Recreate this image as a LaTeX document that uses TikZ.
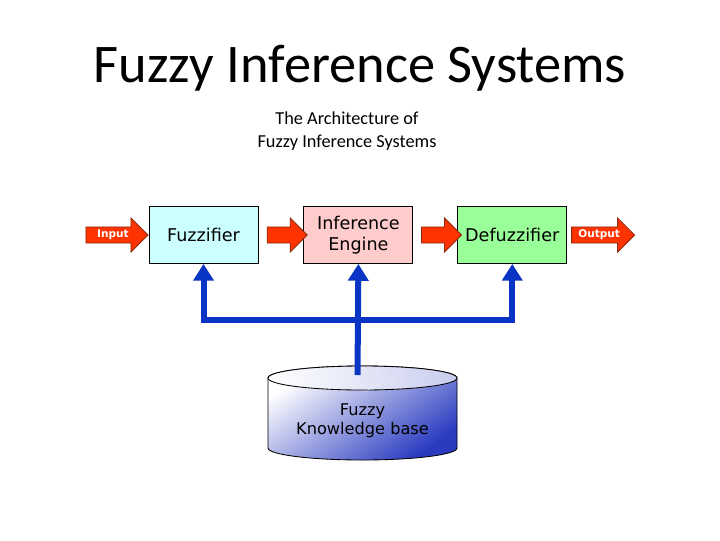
\documentclass[tikz,border=0pt]{standalone}
\usepackage{fontspec}
\setmainfont{Carlito}
\newfontfamily\boxfont{DejaVu Sans}
\usepackage{tikz}
\usetikzlibrary{shapes.geometric, shapes.arrows, arrows.meta, positioning, calc}
\usepackage{xcolor}
\definecolor{FuzzCyan}{HTML}{CCFFFF}
\definecolor{InferPink}{HTML}{FFCCCC}
\definecolor{DefuzzGreen}{HTML}{99FF99}
\definecolor{ArrowRed}{HTML}{FF3300}
\definecolor{ArrowEdge}{HTML}{8B2A10}
\definecolor{LinkBlue}{HTML}{0A35C4}
\definecolor{BaseBlue}{HTML}{2A3BC0}
\definecolor{BaseLight}{HTML}{C9CDEE}
\tikzset{
    % Block styles
    stagebox/.style={
        rectangle,
        draw=black,
        semithick,
        minimum width=2.725cm,
        minimum height=1.425cm,
        align=center,
        font=\boxfont\fontsize{12.5}{14.5}\selectfont
    },
    % Arrow styles
    redarrow/.style={
        single arrow,
        draw=ArrowEdge,
        fill=ArrowRed,
        semithick,
        single arrow head extend=0.225cm,
        minimum width=0.84cm,
        inner xsep=0pt,
        inner ysep=0pt,
        text height=0.255cm,
        text depth=0.125cm,
        text=white,
        font=\boxfont\bfseries\fontsize{7.5}{8}\selectfont
    },
    linkarrow/.style={
        -{Triangle[width=0.5cm,length=0.42cm]},
        line width=0.15cm,
        LinkBlue,
        line join=miter
    }
}
\begin{document}
\begin{tikzpicture}[x=0.025cm, y=-0.025cm]
    \useasboundingbox (0,0) rectangle (720,540);

    % Titles
    \node[font=\fontsize{38.7}{44}\selectfont] (title) at (360,68) {Fuzzy Inference Systems};
    \node[font=\fontsize{13}{16}\selectfont, align=center] (subtitle) at (347,131)
        {The Architecture of\\Fuzzy Inference Systems};

    % Stages
    \node[stagebox, fill=FuzzCyan] (fuzz) at (203.5,235) {Fuzzifier};
    \node[stagebox, fill=InferPink, right=1.125cm of fuzz] (inf) {Inference\\Engine};
    \node[stagebox, fill=DefuzzGreen, right=1.1cm of inf] (defuzz) {Defuzzifier};

    % Red block arrows
    \node[redarrow, minimum height=1.55cm, left=0cm of fuzz] (input) {Input};
    \node[redarrow, minimum height=1.0cm] (fi) at ($(fuzz.east)!0.55!(inf.west)$) {};
    \node[redarrow, minimum height=1.0cm] (id) at ($(inf.east)!0.55!(defuzz.west)$) {};
    \node[redarrow, minimum height=1.575cm, right=0.1cm of defuzz] (output) {Output};

    % Knowledge base cylinder
    \shade[top color=white, bottom color=BaseBlue, shading angle=35, draw=black, semithick]
        (268,378) -- (268,448) arc[start angle=180, end angle=0, x radius=94.5, y radius=12]
        -- (457,378) arc[start angle=0, end angle=-180, x radius=94.5, y radius=12] -- cycle;
    \shade[left color=white, right color=BaseLight, draw=black, semithick]
        (362.5,378) ellipse[x radius=94.5, y radius=12];
    \draw[white, densely dotted, thin] (363,392) -- (408,371);
    \node[font=\boxfont\fontsize{11.5}{13.5}\selectfont, align=center] (kb) at (362.5,421)
        {Fuzzy\\Knowledge base};
    \coordinate (kbtop) at (357.5,375);
    \coordinate (bus) at (357.5,320);

    % Links from the knowledge base
    \draw[linkarrow] (kbtop) -- (inf.south);
    \draw[linkarrow] (bus) -| (fuzz.south);
    \draw[linkarrow] (bus) -| (defuzz.south);
\end{tikzpicture}
\end{document}
